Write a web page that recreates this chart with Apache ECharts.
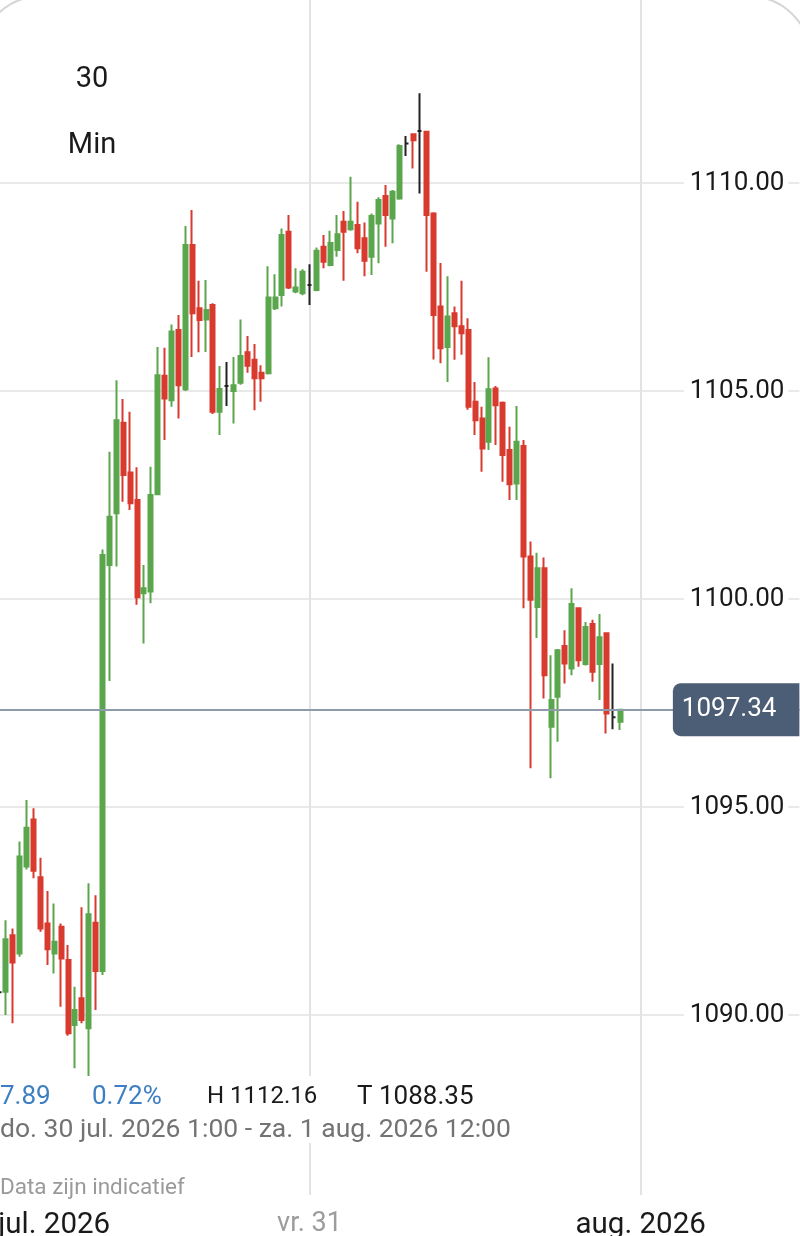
<!DOCTYPE html>
<html>
<head>
<meta charset="utf-8">
<script src="https://cdn.jsdelivr.net/npm/echarts@6/dist/echarts.min.js"></script>
<style>
html,body{margin:0;padding:0;background:#fff;}
#chart{width:800px;height:1236px;}
</style>
</head>
<body>
<div id="chart"></div>
<script>
// ---- data (30-minute candles, index 0 = do. 30 jul. 2026 01:30) ----
const opens = [
  1090.55,1090.56,1091.92,1091.48,1093.57,1094.70,1093.31,1092.20,1091.48,1092.12,
  1091.32,1089.76,1090.40,1089.68,1092.22,1091.06,1100.82,1102.06,1104.24,1103.04,
  1102.38,1100.14,1100.18,1102.52,1105.37,1104.78,1106.47,1105.04,1108.51,1106.99,
  1106.72,1107.07,1104.50,1105.12,1105.00,1105.20,1105.93,1105.75,1105.44,1105.43,
  1106.99,1107.31,1108.83,1107.39,1107.35,1107.55,1107.43,1108.47,1108.03,1108.39,
  1109.07,1108.89,1108.99,1108.67,1108.23,1109.03,1109.69,1109.15,1109.63,1110.95,
  1111.17,1111.25,1111.23,1109.27,1107.03,1106.06,1106.87,1106.56,1106.47,1104.74,
  1104.34,1103.78,1105.06,1104.72,1103.58,1102.78,1103.68,1101.02,1099.81,1100.74,
  1096.93,1097.65,1098.87,1098.33,1099.78,1098.44,1099.40,1098.44,1099.18,1097.16,
  1097.05
];
const closes = [
  1090.55,1091.82,1091.26,1093.81,1094.50,1093.47,1092.08,1091.58,1091.76,1091.36,
  1089.56,1090.12,1089.88,1092.42,1091.06,1101.06,1101.98,1104.30,1102.98,1102.30,
  1100.04,1100.26,1102.50,1105.38,1104.82,1106.43,1105.14,1108.51,1106.87,1106.71,
  1106.95,1104.50,1105.05,1105.12,1105.14,1105.84,1105.61,1105.31,1105.31,1107.25,
  1107.25,1108.75,1107.49,1107.49,1107.87,1107.55,1108.37,1108.11,1108.56,1108.77,
  1108.83,1109.07,1108.43,1108.13,1109.21,1109.59,1109.23,1109.79,1110.89,1110.95,
  1111.03,1111.25,1109.23,1106.83,1106.03,1106.79,1106.56,1106.39,1104.62,1104.30,
  1103.62,1105.04,1104.66,1103.46,1102.76,1103.78,1101.02,1099.98,1100.74,1098.17,
  1097.57,1098.77,1098.45,1099.88,1098.53,1099.33,1098.25,1099.08,1097.25,1097.16,
  1097.34
];
const lows = [
  1090.30,1090.00,1089.80,1091.40,1093.50,1093.29,1092.00,1091.20,1091.00,1090.20,
  1089.50,1088.72,1089.80,1088.40,1090.12,1090.96,1098.03,1100.78,1102.34,1102.14,
  1099.86,1098.93,1099.90,1102.50,1103.82,1104.62,1104.34,1105.00,1105.82,1105.93,
  1105.94,1104.45,1103.94,1104.64,1104.22,1105.15,1105.44,1104.54,1104.74,1105.40,
  1106.95,1107.03,1107.45,1107.35,1107.30,1107.07,1107.40,1107.95,1108.00,1108.23,
  1107.65,1108.85,1108.31,1107.76,1107.79,1108.07,1108.47,1108.55,1109.60,1110.65,
  1110.35,1109.75,1107.87,1105.76,1105.67,1105.22,1105.75,1105.87,1104.55,1103.94,
  1103.06,1103.58,1103.70,1102.82,1102.38,1102.38,1099.78,1095.93,1099.06,1097.61,
  1095.69,1096.57,1097.97,1098.17,1098.37,1098.40,1098.01,1097.57,1096.77,1096.87,
  1096.85
];
const highs = [
  1090.90,1092.28,1092.08,1094.17,1095.17,1094.97,1093.78,1092.98,1092.68,1092.20,
  1091.68,1090.68,1092.59,1093.17,1092.88,1101.19,1103.54,1105.26,1104.81,1104.50,
  1103.17,1100.82,1103.18,1106.06,1106.04,1106.60,1106.83,1108.97,1109.35,1107.65,
  1107.67,1107.11,1105.60,1105.70,1105.82,1106.72,1106.32,1106.13,1105.62,1108.00,
  1107.81,1108.91,1109.23,1107.95,1107.93,1108.05,1108.45,1108.75,1108.85,1109.23,
  1109.33,1110.15,1109.55,1109.05,1109.27,1109.66,1109.95,1109.83,1110.93,1111.13,
  1111.17,1112.16,1111.25,1109.30,1108.08,1107.76,1107.03,1107.65,1106.75,1105.22,
  1104.62,1105.81,1105.12,1104.75,1104.14,1104.64,1103.82,1101.38,1101.11,1101.00,
  1098.65,1098.80,1099.25,1100.26,1099.80,1099.45,1099.50,1099.64,1099.20,1098.45,
  1097.36
];
const currentPrice = 1097.34;

// x axis: 30-minute slots
const slotStart = Date.UTC(2026, 6, 30, 1, 30);
const slotCount = 117;
const categories = [];
for (let i = 0; i < slotCount; i++) {
  categories.push(new Date(slotStart + i * 1800000).toISOString().slice(0, 16).replace('T', ' '));
}
const xGridIdx = [45, 93];
const xLabelIdx = [8, 45, 93];
const xLabelText = ['jul. 2026', 'vr. 31', 'aug. 2026'];
const xLabelStyle = ['a', 'g', 'a'];

// y axis (visible price window)
const yMin = 1085, yMax = 1114.4, yStep = 5;

const candleData = opens.map((o, i) => [o, closes[i], lows[i], highs[i]]);

const UP = '#5aa64c', DOWN = '#d93a2e', DOJI = '#222222';
const FONT = 'Roboto';

const chart = echarts.init(document.getElementById('chart'), null, {renderer: 'canvas'});
chart.setOption({
  animation: false,
  backgroundColor: '#ffffff',
  textStyle: {fontFamily: FONT},
  grid: [
    {left: -1, right: 0.6, top: 0, bottom: 13, outerBoundsMode: 'none', containLabel: false},
    {left: -1, right: 0.6, top: 0, bottom: 41, outerBoundsMode: 'none', containLabel: false}
  ],
  xAxis: [
    {type: 'category', gridIndex: 0, data: categories, boundaryGap: false, show: false},
    {
      type: 'category', gridIndex: 1, data: categories, boundaryGap: false,
      axisLine: {show: false}, axisTick: {show: false},
      splitLine: {show: true, interval: (i) => xGridIdx.includes(i), lineStyle: {color: '#e3e3e3', width: 2}},
      axisLabel: {
        show: true,
        interval: (i) => xLabelIdx.includes(i),
        formatter: (v, i) => {
          const k = xLabelIdx.indexOf(i);
          return k >= 0 ? '{' + xLabelStyle[k] + '|' + xLabelText[k] + '}' : '';
        },
        margin: 16,
        rich: {
          a: {color: '#1a1a1a', fontSize: 29.5, fontFamily: FONT},
          g: {color: '#9c9c9c', fontSize: 27, fontFamily: FONT}
        }
      }
    }
  ],
  yAxis: [
    {
      type: 'value', gridIndex: 0, position: 'right',
      min: yMin, max: yMax, interval: yStep,
      axisLine: {show: false}, axisTick: {show: false},
      splitLine: {show: true, showMinLine: false, showMaxLine: false, lineStyle: {color: '#e9e9e9', width: 2}},
      axisLabel: {
        inside: true, margin: 11, showMinLabel: false, showMaxLabel: false,
        formatter: (v) => (v % yStep === 0 ? v.toFixed(2) : ''),
        color: '#1a1a1a', fontSize: 26, fontFamily: FONT,
        backgroundColor: '#ffffff', padding: [2, 4, 2, 6]
      }
    },
    {type: 'value', gridIndex: 1, show: false, min: 0, max: 1}
  ],
  series: [{
    type: 'candlestick',
    xAxisIndex: 0, yAxisIndex: 0,
    data: candleData,
    barWidth: 4.5,
    itemStyle: {
      color: UP, color0: DOWN,
      borderColor: UP, borderColor0: DOWN,
      borderColorDoji: DOJI,
      borderWidth: 2
    },
    markLine: {
      silent: true,
      symbol: ['none', 'none'],
      lineStyle: {color: '#8f9bab', width: 2, type: 'solid'},
      label: {
        show: true,
        position: 'insideEnd',
        distance: [0, 0],
        formatter: (p) => Number(p.value).toFixed(2),
        color: '#ffffff', fontSize: 26, fontFamily: FONT,
        backgroundColor: '#4c5d76',
        borderRadius: [8, 0, 0, 8],
        padding: [14, 23, 13, 9],
        verticalAlign: 'middle'
      },
      data: [{yAxis: currentPrice}]
    }
  }],
  graphic: [
    {type: 'text', x: 92, y: 80, style: {text: '30', fill: '#1a1a1a', fontSize: 29, fontFamily: FONT, align: 'center', verticalAlign: 'middle'}},
    {type: 'text', x: 92, y: 146, style: {text: 'Min', fill: '#1a1a1a', fontSize: 29, fontFamily: FONT, align: 'center', verticalAlign: 'middle'}},
    {type: 'rect', silent: true, z: 50, shape: {x: 0, y: 1076, width: 520, height: 67}, style: {fill: '#ffffff'}},
    {type: 'text', z: 51, x: 0, y: 1097, style: {text: '7.89', fill: '#3d7fc2', fontSize: 26, fontFamily: FONT, verticalAlign: 'middle'}},
    {type: 'text', z: 51, x: 92, y: 1097, style: {text: '0.72%', fill: '#3d7fc2', fontSize: 26, fontFamily: FONT, verticalAlign: 'middle'}},
    {type: 'text', z: 51, x: 207, y: 1097, style: {text: 'H 1112.16', fill: '#1a1a1a', fontSize: 24, fontFamily: FONT, verticalAlign: 'middle'}},
    {type: 'text', z: 51, x: 357, y: 1097, style: {text: 'T 1088.35', fill: '#1a1a1a', fontSize: 26, fontFamily: FONT, verticalAlign: 'middle'}},
    {type: 'text', z: 51, x: 0, y: 1130, style: {text: 'do. 30 jul. 2026 1:00 - za. 1 aug. 2026 12:00', fill: '#737373', fontSize: 26.5, fontFamily: FONT, verticalAlign: 'middle'}},
    {type: 'text', z: 51, x: 0, y: 1188, style: {text: 'Data zijn indicatief', fill: '#9a9a9a', fontSize: 22.5, fontFamily: FONT, verticalAlign: 'middle'}},
    {type: 'rect', silent: true, z: 100, shape: {x: -20, y: -3.4, width: 830, height: 1400, r: 60}, style: {fill: 'none', stroke: '#d6d6d6', lineWidth: 2}}
  ]
});
</script>
</body>
</html>
